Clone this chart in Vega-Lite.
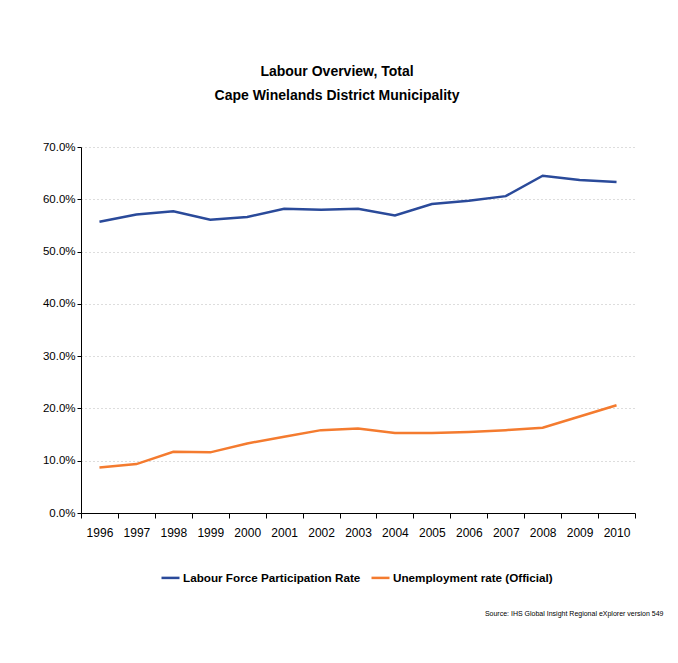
{
  "$schema": "https://vega.github.io/schema/vega-lite/v6.json",
  "width": 554,
  "height": 366,
  "autosize": {"type": "none"},
  "padding": {"left": 81, "top": 147, "right": 43, "bottom": 150},
  "background": "white",
  "title": {
    "text": ["Labour Overview, Total", "Cape Winelands District Municipality"],
    "font": "Liberation Sans",
    "fontSize": 14,
    "fontWeight": "bold",
    "color": "black",
    "anchor": "middle",
    "dx": -21,
    "offset": 38,
    "lineHeight": 24
  },
  "data": {
    "values": [
      {"year": "1996", "series": "Labour Force Participation Rate", "value": 0.557},
      {"year": "1997", "series": "Labour Force Participation Rate", "value": 0.571},
      {"year": "1998", "series": "Labour Force Participation Rate", "value": 0.577},
      {"year": "1999", "series": "Labour Force Participation Rate", "value": 0.561},
      {"year": "2000", "series": "Labour Force Participation Rate", "value": 0.566},
      {"year": "2001", "series": "Labour Force Participation Rate", "value": 0.582},
      {"year": "2002", "series": "Labour Force Participation Rate", "value": 0.580},
      {"year": "2003", "series": "Labour Force Participation Rate", "value": 0.582},
      {"year": "2004", "series": "Labour Force Participation Rate", "value": 0.569},
      {"year": "2005", "series": "Labour Force Participation Rate", "value": 0.591},
      {"year": "2006", "series": "Labour Force Participation Rate", "value": 0.597},
      {"year": "2007", "series": "Labour Force Participation Rate", "value": 0.606},
      {"year": "2008", "series": "Labour Force Participation Rate", "value": 0.645},
      {"year": "2009", "series": "Labour Force Participation Rate", "value": 0.637},
      {"year": "2010", "series": "Labour Force Participation Rate", "value": 0.633},
      {"year": "1996", "series": "Unemployment rate (Official)", "value": 0.087},
      {"year": "1997", "series": "Unemployment rate (Official)", "value": 0.0935},
      {"year": "1998", "series": "Unemployment rate (Official)", "value": 0.117},
      {"year": "1999", "series": "Unemployment rate (Official)", "value": 0.116},
      {"year": "2000", "series": "Unemployment rate (Official)", "value": 0.133},
      {"year": "2001", "series": "Unemployment rate (Official)", "value": 0.146},
      {"year": "2002", "series": "Unemployment rate (Official)", "value": 0.1585},
      {"year": "2003", "series": "Unemployment rate (Official)", "value": 0.1615},
      {"year": "2004", "series": "Unemployment rate (Official)", "value": 0.153},
      {"year": "2005", "series": "Unemployment rate (Official)", "value": 0.153},
      {"year": "2006", "series": "Unemployment rate (Official)", "value": 0.155},
      {"year": "2007", "series": "Unemployment rate (Official)", "value": 0.1585},
      {"year": "2008", "series": "Unemployment rate (Official)", "value": 0.163},
      {"year": "2009", "series": "Unemployment rate (Official)", "value": 0.1845},
      {"year": "2010", "series": "Unemployment rate (Official)", "value": 0.206}
    ]
  },
  "mark": {"type": "line", "strokeWidth": 2.5},
  "encoding": {
    "x": {
      "field": "year",
      "type": "ordinal",
      "scale": {"type": "band", "paddingInner": 0, "paddingOuter": 0},
      "axis": {
        "title": "Source: IHS Global Insight Regional eXplorer version 549",
        "titleFont": "Liberation Sans",
        "titleFontSize": 7,
        "titleFontWeight": "normal",
        "titleColor": "black",
        "titleAlign": "right",
        "titleAnchor": "end",
        "titleX": 582,
        "titleY": 100,
        "titleBaseline": "middle",
        "labelAngle": 0,
        "labelFont": "Liberation Sans",
        "labelFontSize": 12,
        "labelColor": "black",
        "labelPadding": 9,
        "tickBand": "extent",
        "tickSize": 5,
        "tickColor": "black",
        "domainColor": "black",
        "grid": false
      }
    },
    "y": {
      "field": "value",
      "type": "quantitative",
      "scale": {"domain": [0, 0.7], "nice": false},
      "axis": {
        "title": null,
        "format": ".1%",
        "values": [0, 0.1, 0.2, 0.3, 0.4, 0.5, 0.6, 0.7],
        "labelFont": "Liberation Sans",
        "labelFontSize": 11.5,
        "labelColor": "black",
        "labelPadding": 2,
        "tickSize": 4,
        "tickColor": "black",
        "domainColor": "black",
        "grid": true,
        "gridColor": "#bbbbbb",
        "gridDash": [1, 3],
        "gridWidth": 1
      }
    },
    "color": {
      "field": "series",
      "type": "nominal",
      "scale": {
        "domain": ["Labour Force Participation Rate", "Unemployment rate (Official)"],
        "range": ["#2A4A9A", "#F47B2F"]
      },
      "legend": {
        "title": null,
        "orient": "none",
        "legendX": 79,
        "legendY": 420,
        "direction": "horizontal",
        "symbolType": "stroke",
        "symbolSize": 324,
        "symbolStrokeWidth": 2.5,
        "labelFont": "Liberation Sans",
        "labelFontSize": 11.7,
        "labelFontWeight": "bold",
        "labelColor": "black",
        "labelOffset": 2,
        "columnPadding": 5,
        "labelLimit": 400
      }
    }
  },
  "config": {"view": {"stroke": null}}
}
